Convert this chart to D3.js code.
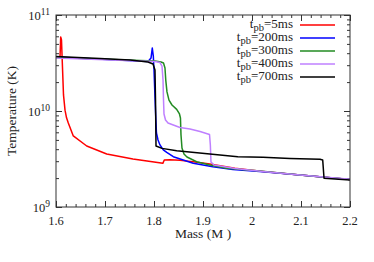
<!DOCTYPE html>
<html>
<head>
<meta charset="utf-8">
<script src="https://cdn.jsdelivr.net/npm/d3@7"></script>
<style>
  body { margin: 0; background: #fff; }
  text { font-family: "Liberation Serif", "DejaVu Serif", serif; fill: #222; }
</style>
</head>
<body>
<script>
// values: mass (Msun) and temperature (K)
var massRed = [1.6082, 1.6096, 1.6112, 1.6129, 1.6153, 1.6184, 1.6215, 1.6251, 1.6353, 1.6627, 1.7035, 1.757, 1.818, 1.821, 1.8327, 1.853, 1.880, 1.914, 1.965, 2.0224, 2.098, 2.2];
var tempRed = [3.65e10, 5.9e10, 5.5e10, 3.16e10, 1.47e10, 1.02e10, 8.5e9, 7.5e9, 5.5e9, 4.32e9, 3.56e9, 3.16e9, 2.85e9, 3.09e9, 3.11e9, 3.06e9, 2.96e9, 2.81e9, 2.53e9, 2.34e9, 2.15e9, 1.93e9];

var massBlue = [1.6, 1.7878, 1.7939, 1.7965, 1.7986, 1.80, 1.803, 1.805, 1.8082, 1.8122, 1.819, 1.826, 1.8394, 1.880, 1.920, 1.961, 2.0224, 2.098, 2.2];
var tempBlue = [3.65e10, 3.28e10, 3.56e10, 4.53e10, 3.74e10, 2.67e10, 1.02e10, 5.9e9, 4.99e9, 4.43e9, 3.93e9, 3.7e9, 3.34e9, 2.85e9, 2.63e9, 2.46e9, 2.33e9, 2.15e9, 1.93e9];

var massGreen = [1.6, 1.7714, 1.802, 1.8143, 1.8194, 1.8224, 1.824, 1.8265, 1.8306, 1.8367, 1.8463, 1.852, 1.854, 1.8551, 1.8571, 1.8612, 1.8673, 1.887, 1.914, 1.948, 2.016, 2.098, 2.2];
var tempGreen = [3.61e10, 3.36e10, 3.32e10, 3.24e10, 3.16e10, 2.81e10, 2.1e10, 1.58e10, 1.3e10, 1.155e10, 1.04e10, 9.31e9, 8.45e9, 5.62e9, 4.12e9, 3.56e9, 3.32e9, 2.96e9, 2.74e9, 2.53e9, 2.37e9, 2.15e9, 1.93e9];

var massPurple = [1.6, 1.7714, 1.802, 1.8122, 1.8163, 1.8184, 1.8194, 1.8204, 1.8235, 1.8286, 1.8394, 1.853, 1.8735, 1.894, 1.9133, 1.915, 1.9163, 1.9224, 1.965, 2.0224, 2.098, 2.2];
var tempPurple = [3.56e10, 3.32e10, 3.28e10, 3.2e10, 2.94e10, 2.1e10, 1.3e10, 9.31e9, 8.05e9, 7.5e9, 7.14e9, 6.73e9, 6.49e9, 6.11e9, 5.69e9, 4.43e9, 2.94e9, 2.74e9, 2.52e9, 2.34e9, 2.15e9, 1.95e9];

var massBlack = [1.6, 1.6898, 1.751, 1.7878, 1.798, 1.802, 1.8031, 1.8041, 1.8163, 1.8463, 1.914, 1.971, 2.0224, 2.0776, 2.1388, 2.1443, 2.147, 2.2];
var tempBlack = [3.7e10, 3.52e10, 3.4e10, 3.24e10, 3.09e10, 2.67e10, 1.3e10, 4.32e9, 4.08e9, 3.85e9, 3.56e9, 3.34e9, 3.3e9, 3.21e9, 3.14e9, 3.09e9, 1.99e9, 1.91e9];

var seriesNames = ["5ms", "200ms", "300ms", "400ms", "700ms"];
var seriesColors = ["#ff0000", "#0000ff", "#228b22", "#bf80ff", "#000000"];
var seriesMass = [massRed, massBlue, massGreen, massPurple, massBlack];
var seriesTemp = [tempRed, tempBlue, tempGreen, tempPurple, tempBlack];

var xTicks = [1.6, 1.7, 1.8, 1.9, 2, 2.1, 2.2];
var yTicks = [1e9, 1e10, 1e11];
var yExps = ["9", "10", "11"];

(function() {
  var W = 374, H = 262;
  var pl = 56, pr = 350, pt = 15, pb = 207;

  var svg = d3.select("body").append("svg")
      .attr("width", W)
      .attr("height", H);

  var x = d3.scaleLinear().domain([1.6, 2.2]).range([pl, pr]);
  var y = d3.scaleLog().domain([1e9, 1e11]).range([pb, pt]);

  var xMinor = d3.range(1.6, 2.2001, 0.02);
  var yMinor = [];
  [1e9, 1e10].forEach(function(b) { for (var k = 2; k < 10; k++) yMinor.push(b * k); });

  // ticks, pointing inward, on all four sides
  function tickAxis(axis, tr) {
    var g = svg.append("g").attr("transform", tr).call(axis);
    g.select(".domain").remove();
    g.selectAll("line").attr("stroke", "#333");
    return g;
  }
  tickAxis(d3.axisBottom(x).tickValues(xMinor).tickSize(-3).tickFormat(""), "translate(0," + pb + ")");
  tickAxis(d3.axisTop(x).tickValues(xMinor).tickSize(-3).tickFormat(""), "translate(0," + pt + ")");
  tickAxis(d3.axisBottom(x).tickValues(xTicks).tickSize(-6).tickFormat(""), "translate(0," + pb + ")");
  tickAxis(d3.axisTop(x).tickValues(xTicks).tickSize(-6).tickFormat(""), "translate(0," + pt + ")");
  tickAxis(d3.axisLeft(y).tickValues(yMinor).tickSize(-3).tickFormat(""), "translate(" + pl + ",0)");
  tickAxis(d3.axisRight(y).tickValues(yMinor).tickSize(-3).tickFormat(""), "translate(" + pr + ",0)");
  tickAxis(d3.axisLeft(y).tickValues(yTicks).tickSize(-6).tickFormat(""), "translate(" + pl + ",0)");
  tickAxis(d3.axisRight(y).tickValues(yTicks).tickSize(-6).tickFormat(""), "translate(" + pr + ",0)");

  // x tick labels
  svg.append("g").selectAll("text")
    .data(xTicks)
    .enter().append("text")
      .attr("x", function(d) { return x(d); })
      .attr("y", pb + 18)
      .attr("text-anchor", "middle")
      .attr("font-size", 12.5)
      .text(function(d) { return d; });

  // y tick labels 10^n
  var yl = svg.append("g").selectAll("text")
    .data(yTicks)
    .enter().append("text")
      .attr("x", pl - 6)
      .attr("y", function(d) { return y(d) + 5; })
      .attr("text-anchor", "end")
      .attr("font-size", 12.5);
  yl.append("tspan").text("10");
  yl.append("tspan").attr("dy", -5).attr("font-size", 9.5).text(function(d, i) { return yExps[i]; });

  // axis titles
  svg.append("text")
    .attr("x", 203)
    .attr("y", 238)
    .attr("text-anchor", "middle")
    .attr("font-size", 13.5)
    .text("Mass (M  )");

  svg.append("text")
    .attr("transform", "translate(16," + ((pt + pb) / 2) + ") rotate(-90)")
    .attr("text-anchor", "middle")
    .attr("font-size", 13.5)
    .text("Temperature (K)");

  // curves
  var line = d3.line()
    .x(function(d) { return x(d[0]); })
    .y(function(d) { return y(d[1]); });

  var plot = svg.append("g");
  seriesNames.forEach(function(name, i) {
    var pts = d3.zip(seriesMass[i], seriesTemp[i]);
    plot.append("path")
      .datum(pts)
      .attr("fill", "none")
      .attr("stroke", seriesColors[i])
      .attr("stroke-width", 1.5)
      .attr("stroke-linejoin", "round")
      .attr("d", line);
  });

  // frame
  svg.append("rect")
    .attr("x", pl).attr("y", pt)
    .attr("width", pr - pl).attr("height", pb - pt)
    .attr("fill", "none")
    .attr("stroke", "#333")
    .attr("stroke-width", 1);

  // legend
  var leg = svg.append("g").selectAll("g")
    .data(seriesNames)
    .enter().append("g")
      .attr("transform", function(d, i) { return "translate(0," + (25 + i * 13) + ")"; });

  var lt = leg.append("text")
    .attr("x", 293)
    .attr("y", 3)
    .attr("text-anchor", "end")
    .attr("font-size", 13);
  lt.append("tspan").text("t");
  lt.append("tspan").attr("dy", 3).attr("font-size", 10.5).text("pb");
  lt.append("tspan").attr("dy", -3).text(function(d) { return "=" + d; });

  leg.append("line")
    .attr("x1", 300).attr("x2", 335)
    .attr("y1", 0).attr("y2", 0)
    .attr("stroke", function(d, i) { return seriesColors[i]; })
    .attr("stroke-width", 1.5);
})();
</script>
</body>
</html>
